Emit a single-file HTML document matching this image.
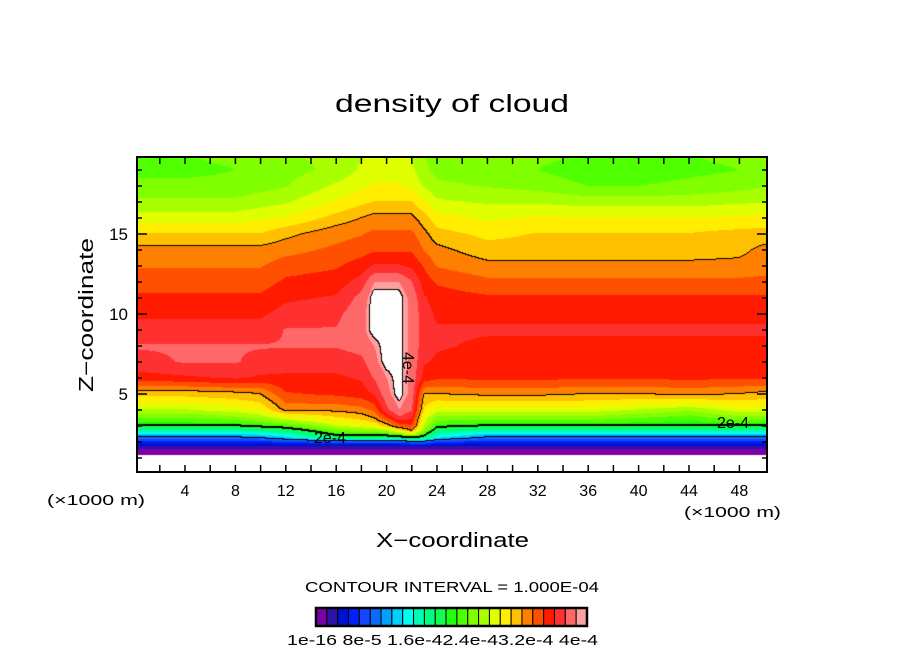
<!DOCTYPE html>
<html><head><meta charset="utf-8">
<style>
html,body{margin:0;padding:0;background:#fff;}
body{width:904px;height:654px;position:relative;overflow:hidden;font-family:"Liberation Sans","DejaVu Sans",sans-serif;color:#000;}
</style></head>
<body>
<canvas id="cv" width="904" height="654" style="position:absolute;left:0;top:0;"></canvas>
<svg id="ax" width="904" height="654" style="position:absolute;left:0;top:0;font-family:'Liberation Sans',sans-serif;">
<text x="335" y="112" font-size="25" textLength="234" lengthAdjust="spacingAndGlyphs">density of cloud</text>
<text x="0" y="0" font-size="20" textLength="154" lengthAdjust="spacingAndGlyphs" transform="translate(93 392) rotate(-90)">Z&#8722;coordinate</text>
<text x="376" y="547" font-size="20" textLength="153" lengthAdjust="spacingAndGlyphs">X&#8722;coordinate</text>
<text x="47" y="505" font-size="15" textLength="98" lengthAdjust="spacingAndGlyphs">(×1000 m)</text>
<text x="684" y="517" font-size="15" textLength="97" lengthAdjust="spacingAndGlyphs">(×1000 m)</text>
<text x="305" y="592" font-size="15" textLength="294" lengthAdjust="spacingAndGlyphs">CONTOUR INTERVAL = 1.000E-04</text>
</svg>
<script>
// data (values in units of 1e-5)
const xCols=[0,4,8,10,12,16,18,19,20,21,22,23,24,28,32,36,40,44,48,50];
const zRows=[1.15,1.3,1.7,2,2.3,2.7,3,3.5,4,5,6,7,8,9,10,11,12,13,14,15,16,17,18,19,20];
const colVals=[
[0,2,4,7,11,17,21,24,27,31,36,38,38.5,37.5,36.5,35.5,34.5,33.5,32.5,30.5,28,26,24.5,23.5,24],
[0,2,4,7,11,17,21,24,27,31,36.5,38.5,38.5,37.5,36.5,35.5,34.5,33.5,32.5,30.5,28,26,24.5,23.5,24],
[0,2,4,7,11,17,21,25,28,31.5,37,38.5,38.5,37.5,36.5,35.5,34.5,33.5,32.5,30.5,28,26,24.5,24,24.5],
[0,2,4,7,12,18,22,26,29,32,36.5,38,38.5,37.5,36.5,35.5,34.5,33.5,32.5,30.5,28.5,26.5,25,24.5,25],
[0,2,4,8,14,19,23,28,32.5,35,36.5,37.5,38.5,38.5,37.5,36.5,35.5,34.5,33,31.5,29,27,25.5,25,25.5],
[0,2,4,9,20,24,27,30,32.5,35.5,36.5,37.5,38.5,38.5,38,37,36,35,34,33,31,29,27.5,26,26],
[0,2,4,9,20,25,28,31,33,36,37,38,39,39.5,39.5,39,37.5,36,34.5,33.5,32,30,28.5,27.5,27],
[0,2,4,9,20,25,29,32,34,37,38.5,39.5,40,41,41,41,40,37,35,34,32.5,30.5,29,28,28],
[0,2,4,9,20,26,31,35,38,39.5,40,41,41,41,41,41,40,37,35,34,32.5,30.5,29,28,28],
[0,2,4,9,21,29,34,38,40,41,41,41,41,41,41,41,40,37,35,34,32.5,30.5,29,28,28],
[0,2,4,10,24,32,35,37,38.5,39.5,39.5,39.5,39.5,39.5,39.5,39.5,38.5,36.5,35,34,32.5,30.5,28.5,27.5,27],
[0,2,4,10,20,25,27,28,30,32,36,37,37.5,37.5,37.5,37,36,35,33.5,32.5,31,29,27,26,25.5],
[0,2,4,8,15,19,22,25,28,32,35.5,36.5,37,37,36.5,36,35,33.5,32.5,31,29.5,27.5,26,25,25],
[0,2,4,7,11,17,21,25,28,32.5,35.5,36,36.5,37,36.5,35.5,34,32.5,31,30,28.5,27,25.5,24.5,25],
[0,2,4,7,11,17,21,25,28,32.5,35.5,36,36.5,37,36.5,35.5,34,32.5,31,30.5,29,27,25,24,24.5],
[0,2,4,7,11,17,21,25,28,32,35.5,36,36.5,37,36.5,35.5,34,32.5,31,30.5,29,26.5,24,23,24],
[0,2,4,7,11,17,21,24,27,32,35.5,36,36.5,37,36.5,35.5,34,32.5,31,30.5,29,26.5,24,23,24],
[0,2,4,7,11,17,21,23,26,32.5,35.5,36,36.5,37,36.5,35.5,34,32.5,31,30.5,29,26.5,24.5,23.5,24],
[0,2,4,7,11,17,21,25,28,32,35.5,36,36.5,37,36.5,35.5,34,32.5,31.5,31,29,27,25,24,24.5],
[0,2,4,7,11,17,21,25,28,31.5,35.5,36,36.5,37,36.5,35.5,34,33,32.5,31,29.5,27,25.5,24.5,25]];
const palette=["#7a00aa","#3010a8","#0010d0","#0020ff","#1448ff","#0a6aff","#00a0ff","#00d0ff","#00ffee","#00ffb0","#00ff80","#10ff50","#20ff10","#50ff00","#80ff00","#a8ff00","#e0ff00","#ffee00","#ffc000","#ff8000","#ff5000","#ff1a00","#ff3030","#ff6868","#ffa0a0"];
const xTicks=[4,8,12,16,20,24,28,32,36,40,44,48];
const yTicks=[5,10,15];
const cbLabels=["1e-16","8e-5","1.6e-4","2.4e-4","3.2e-4","4e-4"];
const contourLevels=[11,20.8,32,40.5];

const L=137,R=767,T=157,B=472;
const sx=x=>134.6+12.6*x, sy=z=>474-16*z;
const ix=p=>(p-134.6)/12.6, iz=p=>(474-p)/16;

function bracket(arr,v){
  if(v<=arr[0])return [0,0,0];
  if(v>=arr[arr.length-1])return [arr.length-1,arr.length-1,0];
  for(let i=0;i<arr.length-1;i++) if(v<=arr[i+1]) return [i,i+1,(v-arr[i])/(arr[i+1]-arr[i])];
}
function val(x,z){
  if(z<zRows[0]) return 0;
  const [a,b,tx]=bracket(xCols,x),[c,d,tz]=bracket(zRows,z);
  const v00=colVals[a][c],v01=colVals[a][d],v10=colVals[b][c],v11=colVals[b][d];
  return (v00*(1-tz)+v01*tz)*(1-tx)+(v10*(1-tz)+v11*tz)*tx;
}
function rgb(h){return [parseInt(h.slice(1,3),16),parseInt(h.slice(3,5),16),parseInt(h.slice(5,7),16)];}
const pal=palette.map(rgb);
const cv=document.getElementById('cv'),ctx=cv.getContext('2d');
const W=R-L,H=B-T;
const img=ctx.createImageData(W,H);
const V=new Float32Array(W*H);
for(let j=0;j<H;j++)for(let i=0;i<W;i++)V[j*W+i]=val(ix(L+i+0.5),iz(T+j+0.5));
function lvl(v){let k=0;for(const c of contourLevels)if(v>=c)k++;return k;}
for(let j=0;j<H;j++)for(let i=0;i<W;i++){
  const v=V[j*W+i];let c=[255,255,255];
  if(v>=0.5&&v<40.5){let k=Math.floor(v/1.6)-1;if(k<0)k=0;if(k>24)k=24;c=pal[k];}
  const l=lvl(v);
  let line=false;
  if(i+1<W&&lvl(V[j*W+i+1])!==l)line=true;
  if(j+1<H&&lvl(V[(j+1)*W+i])!==l)line=true;
  if(l>=2&&l<3&&j+2<H&&lvl(V[(j+2)*W+i])<2)line=true;
  if(line)c=[0,0,0];
  const o=(j*W+i)*4;img.data[o]=c[0];img.data[o+1]=c[1];img.data[o+2]=c[2];img.data[o+3]=255;
}
ctx.putImageData(img,L,T);

const NS="http://www.w3.org/2000/svg",ax=document.getElementById('ax');
function mk(tag,attrs){const e=document.createElementNS(NS,tag);for(const k in attrs)e.setAttribute(k,attrs[k]);ax.appendChild(e);return e;}
let e=mk('rect',{x:L,y:T,width:W,height:H,fill:'none',stroke:'#000','stroke-width':2});


for(let x=2;x<50;x+=2){
  const p=sx(x);
  e=mk('line',{x1:p,y1:B,x2:p,y2:B-7,stroke:'#000','stroke-width':1.5});
  
  
  e=mk('line',{x1:p,y1:T,x2:p,y2:T+7,stroke:'#000','stroke-width':1.5});
  
  
}
for(let z=1;z<20;z++){
  const p=sy(z),len=z%5===0?10:5;
  e=mk('line',{x1:L,y1:p,x2:L+len,y2:p,stroke:'#000','stroke-width':1.5});
  
  
  e=mk('line',{x1:R,y1:p,x2:R-len,y2:p,stroke:'#000','stroke-width':1.5});
  
  
}
xTicks.forEach(x=>{
  e=mk('text',{x:sx(x),y:496,'text-anchor':'middle','font-size':16});
  e.textContent=x;
  
  
});
yTicks.forEach(z=>{
  e=mk('text',{x:128,y:sy(z)+6,'text-anchor':'end','font-size':17});
  e.textContent=z;
  
  
});
function lab(t,x,y,rot){
  const g=mk('text',{x:x,y:y,'text-anchor':'middle','font-size':16,transform:rot?`rotate(90 ${x} ${y})`:''});
  g.textContent=t;
  
  
  return g;
}
lab('2e-4',330,443,false);
lab('2e-4',733,428,false);
lab('4e-4',403,368,true);
const cbX=316,cbW=271,cbY=608,cbH=18,sw=cbW/palette.length;
palette.forEach((c,i)=>{
  e=mk('rect',{x:cbX+i*sw,y:cbY,width:sw,height:cbH,fill:c,stroke:'#000','stroke-width':1});
  
  
});
e=mk('rect',{x:cbX,y:cbY,width:cbW,height:cbH,fill:'none',stroke:'#000','stroke-width':2.5});


e=mk('text',{x:287,y:645,'font-size':15,textLength:311,lengthAdjust:'spacingAndGlyphs'});
e.textContent=cbLabels[0]+" "+cbLabels[1]+" "+cbLabels[2]+cbLabels[3]+cbLabels[4]+" "+cbLabels[5];


</script>
</body></html>
